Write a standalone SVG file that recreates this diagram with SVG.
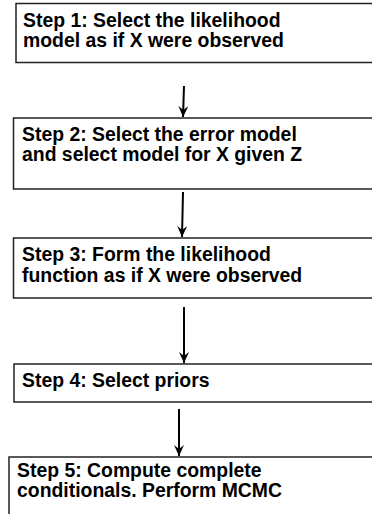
<svg xmlns="http://www.w3.org/2000/svg" width="372" height="514" viewBox="0 0 372 514">
<defs>
<marker id="ah" markerWidth="12" markerHeight="10" refX="11" refY="5" orient="auto" markerUnits="userSpaceOnUse" viewBox="0 0 12 10">
<path d="M0,0 L11,5 L0,10 L4,5 Z" fill="#000"/>
</marker>
<style>
.box{fill:#fff;stroke:#222;stroke-width:1.5}
.t{font-family:"Liberation Sans",Arial,sans-serif;font-weight:bold;font-size:19.4px;fill:#000}
.c{stroke:#000;stroke-width:2;fill:none}
</style>
</defs>
<rect width="372" height="514" fill="#fff"/>
<g id="step1">
<rect class="box" x="16" y="3.5" width="370" height="59"/>
<text class="t" x="23" y="27">Step 1: Select the likelihood</text>
<text class="t" x="23" y="47">model as if X were observed</text>
</g>
<g id="step2">
<rect class="box" x="13.5" y="118" width="370" height="71"/>
<text class="t" x="22" y="141">Step 2: Select the error model</text>
<text class="t" x="22" y="161">and select model for X given Z</text>
</g>
<g id="step3">
<rect class="box" x="13.5" y="238" width="370" height="60"/>
<text class="t" x="22" y="261">Step 3: Form the likelihood</text>
<text class="t" x="22" y="282">function as if X were observed</text>
</g>
<g id="step4">
<rect class="box" x="14" y="364" width="370" height="38"/>
<text class="t" x="22" y="387">Step 4: Select priors</text>
</g>
<g id="step5">
<rect class="box" x="9" y="457" width="370" height="70"/>
<text class="t" x="17" y="477">Step 5: Compute complete</text>
<text class="t" x="17" y="497">conditionals. Perform MCMC</text>
</g>
<g id="connectors">
<line class="c" x1="184" y1="86" x2="183" y2="117" marker-end="url(#ah)"/>
<line class="c" x1="183" y1="192" x2="182" y2="237" marker-end="url(#ah)"/>
<line class="c" x1="184" y1="307" x2="184" y2="363" marker-end="url(#ah)"/>
<line class="c" x1="179" y1="409" x2="179" y2="456" marker-end="url(#ah)"/>
</g>
</svg>
